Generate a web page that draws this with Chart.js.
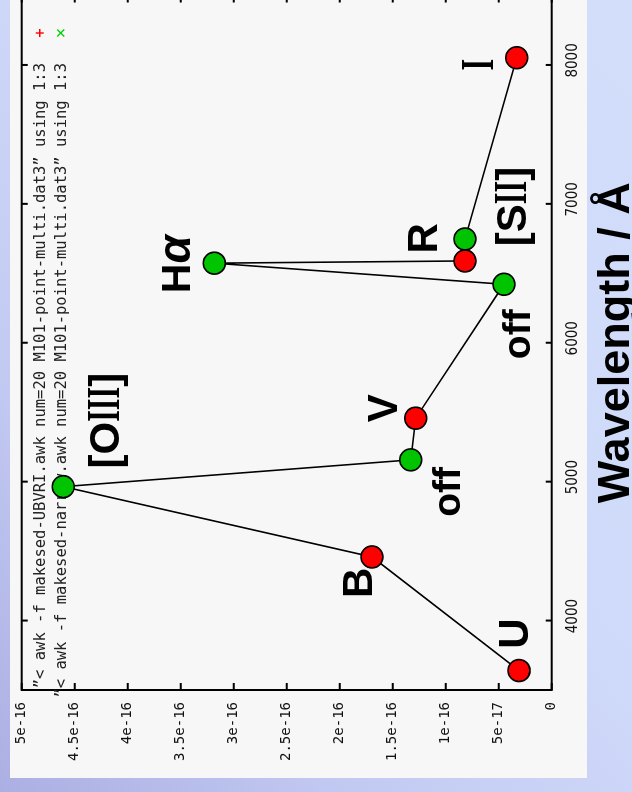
<!DOCTYPE html>
<html>
<head>
<meta charset="utf-8">
<title>M101 SED</title>
<script src="https://cdn.jsdelivr.net/npm/chart.js@4.4.1/dist/chart.umd.min.js"></script>
<style>
  html, body { margin: 0; padding: 0; }
  body {
    width: 632px; height: 792px; overflow: hidden; position: relative;
    background: linear-gradient(50deg, #abafe3 0%, #c3caf2 28%, #cfd9f9 55%, #d3defb 100%);
  }
  #panel { position: absolute; left: 10px; top: -10px; width: 577px; height: 788px; background: #f7f7f7; }
  /* the plot is laid out landscape and turned a quarter turn counter-clockwise */
  #wrap {
    position: absolute; left: 0; top: 0; width: 810px; height: 632px;
    transform-origin: 0 0; transform: translateY(792px) rotate(-90deg);
  }
  #sed { display: block; }
</style>
</head>
<body>
<div id="panel"></div>
<div id="wrap"><canvas id="sed" width="810" height="632" style="width:810px;height:632px"></canvas></div>
<script>
// Broad-band photometry (UBVRI)
const bandNames = ['U', 'B', 'V', 'R', 'I'];
const bandWavelength = [3640, 4458, 5457, 6589, 8052];
const bandFlux = [3.08e-17, 1.695e-16, 1.283e-16, 8.18e-17, 3.3e-17];

// Narrow-band photometry: emission lines and their off-line continua
const lineNames = ['[OIII]', 'off', 'Hα', 'off', '[SII]'];
const lineWavelength = [4964, 5157, 6573, 6421, 6747];
const lineFlux = [4.608e-16, 1.33e-16, 3.183e-16, 4.5e-17, 8.18e-17];

// gnuplot key entries
const bandKey = '”< awk -f makesed-UBVRI.awk num=20 M101-point-multi.dat3” using 1:3';
const lineKey = '”< awk -f makesed-narrow.awk num=20 M101-point-multi.dat3” using 1:3';

// Axis ticks
const wavelengthTicks = [4000, 5000, 6000, 7000, 8000];
const wavelengthTickLabels = ['4000', '5000', '6000', '7000', '8000'];
const fluxTicks = [0, 5e-17, 1e-16, 1.5e-16, 2e-16, 2.5e-16, 3e-16, 3.5e-16, 4e-16, 4.5e-16, 5e-16];
const fluxTickLabels = ['0', '5e-17', '1e-16', '1.5e-16', '2e-16', '2.5e-16', '3e-16', '3.5e-16', '4e-16', '4.5e-16', '5e-16'];

// Filter-name placement: [dx, dy] in px from the marker to the label centre / baseline
const bandLabelOffset = [[37, 9], [-26, 0], [10, -19], [22.5, -28], [-7, -24]];
const bandLabelSize = [42, 42, 42, 42, 42];
const lineLabelOffset = [[66, 56], [-32, 49], [-1, -24], [-50, 26], [32.5, 61]];
const lineLabelSize = [42, 39, 41, 39, 42];

const toPoints = (xs, ys) => xs.map((x, i) => ({ x: x, y: ys[i] }));
const bandPoints = toPoints(bandWavelength, bandFlux);
const linePoints = toPoints(lineWavelength, lineFlux);
// all filters joined in order of wavelength
const sedPath = bandPoints.concat(linePoints).sort((a, b) => a.x - b.x);

const SANS = "'Liberation Sans', Arial, sans-serif";
const SERIF = "'Liberation Serif', 'DejaVu Serif', serif";
const MONO = "'DejaVu Sans Mono', monospace";

// Bold label text; the letter I is set as a narrow serif capital, α in italic
function drawFilterLabel(ctx, text, cx, baseline, size) {
  const runs = [];
  for (const ch of text) {
    const kind = ch === 'I' ? 'serif' : (ch === 'α' ? 'greek' : 'sans');
    const last = runs[runs.length - 1];
    if (last && last.kind === kind) last.text += ch; else runs.push({ kind: kind, text: ch });
  }
  const sansFont = `bold ${size}px ${SANS}`;
  const serifFont = `bold ${Math.round(size * 1.1)}px ${SERIF}`;
  const greekFont = `italic bold ${Math.round(size * 1.12)}px ${SANS}`;
  ctx.font = sansFont;
  const iAdvance = ctx.measureText('I').width;
  runs.forEach(r => {
    if (r.kind === 'serif') r.width = iAdvance * r.text.length;
    else { ctx.font = r.kind === 'greek' ? greekFont : sansFont; r.width = ctx.measureText(r.text).width; }
  });
  let x = cx - runs.reduce((s, r) => s + r.width, 0) / 2;
  ctx.fillStyle = '#000';
  ctx.textBaseline = 'alphabetic';
  runs.forEach(r => {
    if (r.kind === 'serif') {
      ctx.font = serifFont;
      ctx.textAlign = 'center';
      for (let k = 0; k < r.text.length; k++) {
        ctx.save();
        ctx.translate(x + iAdvance * (k + 0.5), baseline);
        ctx.scale(0.65, 1);
        ctx.fillText('I', 0, 0);
        ctx.restore();
      }
    } else {
      ctx.font = r.kind === 'greek' ? greekFont : sansFont;
      ctx.textAlign = 'left';
      ctx.fillText(r.text, x, baseline);
    }
    x += r.width;
  });
}

// Border with inward ticks on all four sides, plus the gnuplot key
const frameAndKey = {
  id: 'frameAndKey',
  beforeDatasetsDraw(chart) {
    const { ctx, chartArea: a, scales: { x, y } } = chart;
    ctx.save();
    ctx.strokeStyle = '#000';
    ctx.lineWidth = 2;
    ctx.strokeRect(a.left, a.top, a.right - a.left, a.bottom - a.top);
    ctx.beginPath();
    x.ticks.forEach(t => {
      const px = x.getPixelForValue(t.value);
      ctx.moveTo(px, a.bottom); ctx.lineTo(px, a.bottom - 6);
      ctx.moveTo(px, a.top); ctx.lineTo(px, a.top + 6);
    });
    y.ticks.forEach(t => {
      const py = y.getPixelForValue(t.value);
      ctx.moveTo(a.left, py); ctx.lineTo(a.left + 7, py);
      ctx.moveTo(a.right, py); ctx.lineTo(a.right - 7, py);
    });
    ctx.stroke();

    // key, top right inside the plot: right-justified text, sample to the right
    const keyRight = a.right - 67.5;
    const rows = [a.top + 19.5, a.top + 40.5];
    ctx.font = `15.5px ${MONO}`;
    ctx.fillStyle = '#222';
    ctx.textAlign = 'right';
    ctx.textBaseline = 'middle';
    [0, 1].forEach((di, r) => {
      const ds = chart.data.datasets[di];
      ctx.fillText(ds.label, keyRight, rows[r]);
      const sx = keyRight + 30, sy = rows[r] - 1.5;
      ctx.strokeStyle = ds.keyColor;
      ctx.lineWidth = 1.4;
      ctx.beginPath();
      if (ds.keyStyle === 'cross') {
        ctx.moveTo(sx - 4, sy); ctx.lineTo(sx + 4, sy);
        ctx.moveTo(sx, sy - 4); ctx.lineTo(sx, sy + 4);
      } else {
        ctx.moveTo(sx - 3.5, sy - 3.5); ctx.lineTo(sx + 3.5, sy + 3.5);
        ctx.moveTo(sx - 3.5, sy + 3.5); ctx.lineTo(sx + 3.5, sy - 3.5);
      }
      ctx.stroke();
    });
    ctx.restore();
  }
};

const filterLabels = {
  id: 'filterLabels',
  afterDatasetsDraw(chart) {
    const { ctx } = chart;
    const groups = [
      { meta: chart.getDatasetMeta(0), names: bandNames, offs: bandLabelOffset, sizes: bandLabelSize },
      { meta: chart.getDatasetMeta(1), names: lineNames, offs: lineLabelOffset, sizes: lineLabelSize }
    ];
    ctx.save();
    groups.forEach(g => {
      g.names.forEach((name, i) => {
        const el = g.meta.data[i];
        drawFilterLabel(ctx, name, el.x + g.offs[i][0], el.y + g.offs[i][1], g.sizes[i]);
      });
    });
    ctx.restore();
  }
};

const markerStyle = (fill) => ({
  pointRadius: 11, pointHoverRadius: 11, pointBackgroundColor: fill,
  pointBorderColor: '#000', pointBorderWidth: 1.6, pointHoverBorderWidth: 1.6,
  showLine: false, clip: false
});

new Chart(document.getElementById('sed'), {
  type: 'scatter',
  data: {
    datasets: [
      Object.assign({ label: bandKey, data: bandPoints, order: 0, keyColor: '#ff0000', keyStyle: 'cross' }, markerStyle('#ff0000')),
      Object.assign({ label: lineKey, data: linePoints, order: 1, keyColor: '#00d000', keyStyle: 'crossRot' }, markerStyle('#00c400')),
      { label: 'SED', data: sedPath, order: 2, showLine: true, borderColor: '#000', borderWidth: 1.6,
        pointRadius: 0, pointHoverRadius: 0, tension: 0, fill: false }
    ]
  },
  options: {
    responsive: false,
    animation: false,
    devicePixelRatio: 1,
    events: [],
    layout: { padding: { left: 0, right: 13.5, top: 21.7, bottom: 0 } },
    plugins: { legend: { display: false }, tooltip: { enabled: false } },
    scales: {
      x: {
        type: 'linear', position: 'bottom', min: 3500, max: 8500,
        afterBuildTicks: s => { s.ticks = wavelengthTicks.map(v => ({ value: v })); },
        afterFit: s => { s.height = 80.3; },
        grid: { display: false, drawTicks: false },
        border: { display: false },
        ticks: {
          autoSkip: false, maxRotation: 0, minRotation: 0, padding: 12, labelOffset: 4.5,
          color: '#111', font: { family: "'DejaVu Sans Condensed', 'DejaVu Sans', sans-serif", size: 15, lineHeight: 1.2 },
          callback: (v, i) => wavelengthTickLabels[i]
        },
        title: {
          display: true, text: 'Wavelength / Å', color: '#000',
          font: { family: SANS, size: 45, weight: 'bold', lineHeight: 1 },
          padding: { top: 0, bottom: -7 }
        }
      },
      y: {
        type: 'linear', position: 'left', min: 0, max: 5e-16,
        afterBuildTicks: s => { s.ticks = fluxTicks.map(v => ({ value: v })); },
        afterFit: s => { s.width = 102; },
        grid: { display: false, drawTicks: false },
        border: { display: false },
        ticks: {
          autoSkip: false, padding: 12, color: '#111',
          font: { family: MONO, size: 14, lineHeight: 1.2 },
          callback: (v, i) => fluxTickLabels[i]
        }
      }
    }
  },
  plugins: [frameAndKey, filterLabels]
});
</script>
</body>
</html>
